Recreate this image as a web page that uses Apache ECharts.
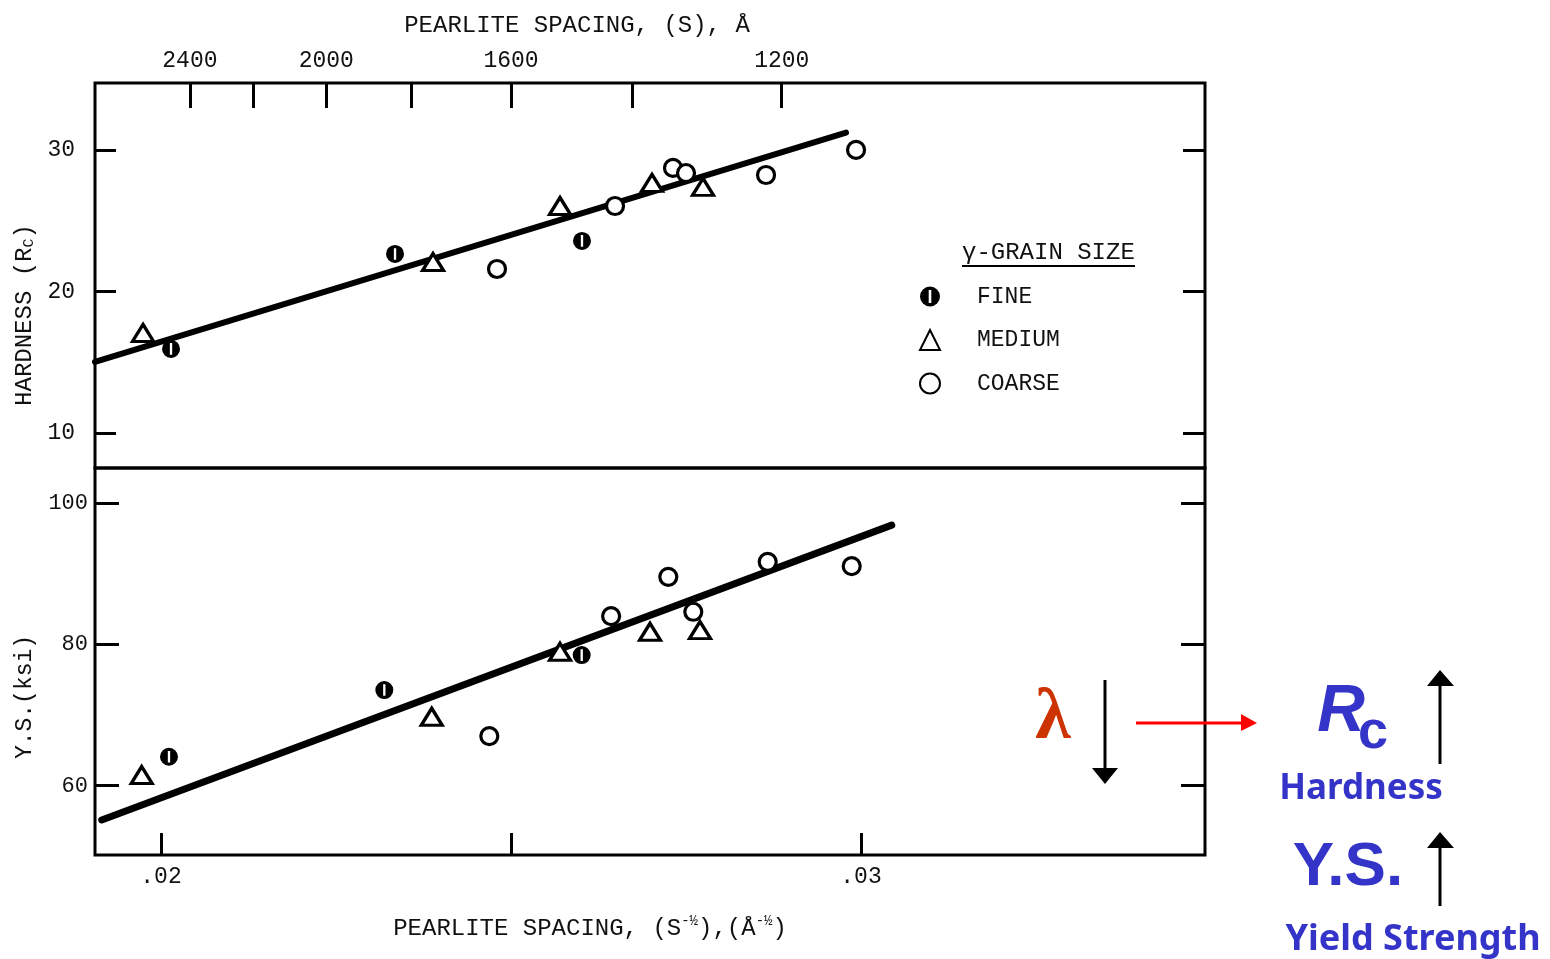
<!DOCTYPE html>
<html><head><meta charset="utf-8">
<script src="https://cdn.jsdelivr.net/npm/echarts@6/dist/echarts.min.js"></script>
<style>html,body{margin:0;padding:0;background:#fff}#chart{width:1550px;height:959px}</style>
</head><body><div id="chart"></div>
<script>
// ---- tick values ----
const spacingTickValues = [2400, 2200, 2000, 1800, 1600, 1400, 1200];   // top axis, Å
const spacingLabelValues = [2400, 2000, 1600, 1200];
const invRootTicks = [0.02, 0.025, 0.03];                               // bottom axis, S^-1/2
const invRootLabels = [0.02, 0.03];
const hardnessTicks = [10, 20, 30];
const ysTicks = [60, 80, 100];

// ---- hardness panel data [S^-1/2, Rc] ----
const hardnessFine = [[0.020143, 15.94], [0.023343, 22.65], [0.026014, 23.57]];
const hardnessMedium = [[0.019743, 17.07], [0.023886, 22.08], [0.0257, 26.04], [0.027014, 27.67], [0.027743, 27.39]];
const hardnessCoarse = [[0.0248, 21.59], [0.026486, 26.04], [0.027314, 28.73], [0.0275, 28.37], [0.028643, 28.23], [0.029929, 30.0]];
const hardnessFit = [[0.019057, 15.02], [0.029786, 31.22]];

// ---- yield strength panel data [S^-1/2, ksi] ----
const ysFine = [[0.020114, 64.10], [0.02319, 73.54], [0.02601, 78.49]];
const ysMedium = [[0.019724, 61.51], [0.023867, 69.76], [0.0257, 78.95], [0.026986, 81.78], [0.0277, 82.02]];
const ysCoarse = [[0.02469, 67.03], [0.02643, 84.0], [0.027247, 89.56], [0.027604, 84.61], [0.028667, 91.68], [0.029867, 91.07]];
const ysFit = [[0.019153, 55.15], [0.030439, 96.87]];

// ---- axis ranges ----
const X_MIN = 0.019057, X_MAX = 0.034914;
const H_MIN = 7.53, H_MAX = 34.73;
const Y_MIN = 50.2, Y_MAX = 104.95;

const mono = 'Liberation Mono';
const ink = '#111';
const blue = '#3434c8';
const FINE_SYMBOL = 'path://M0,-10A10,10,0,1,1,0,10A10,10,0,1,1,0,-10Z M-1.3,-6.5L-1.3,6.5L1.3,6.5L1.3,-6.5Z';

const styles = {
  FINE: { symbol: FINE_SYMBOL, symbolSize: 18, itemStyle: { color: '#000', borderWidth: 0, opacity: 1 } },
  MEDIUM: { symbol: 'triangle', symbolSize: [21, 17], itemStyle: { color: '#fff', borderColor: '#000', borderWidth: 3.2, opacity: 1 } },
  COARSE: { symbol: 'circle', symbolSize: 17, itemStyle: { color: '#fff', borderColor: '#000', borderWidth: 3.2, opacity: 1 } }
};

function scatter(name, data, xi, yi) {
  return Object.assign({ type: 'scatter', name: name, data: data, xAxisIndex: xi, yAxisIndex: yi, z: 5 }, styles[name]);
}
function fit(data, xi, yi, w) {
  return { type: 'line', data: data, xAxisIndex: xi, yAxisIndex: yi, symbol: 'none', z: 3,
    lineStyle: { color: '#000', width: w, cap: 'round' } };
}
const tickStyle = { color: '#000', width: 3 };

const chart = echarts.init(document.getElementById('chart'));
chart.setOption({
  animation: false,
  backgroundColor: '#fff',
  grid: [
    { left: 95, width: 1110, top: 83, height: 385, show: true, borderColor: '#000', borderWidth: 3, backgroundColor: 'transparent' },
    { left: 95, width: 1110, top: 468, height: 387, show: true, borderColor: '#000', borderWidth: 3, backgroundColor: 'transparent' }
  ],
  xAxis: [
    { gridIndex: 0, type: 'value', position: 'top', min: X_MIN, max: X_MAX,
      splitLine: { show: false }, axisLine: { show: false },
      axisTick: { inside: true, length: 25, lineStyle: tickStyle, customValues: spacingTickValues.map(s => 1 / Math.sqrt(s)) },
      axisLabel: { customValues: spacingLabelValues.map(s => 1 / Math.sqrt(s)), formatter: v => String(Math.round(1 / (v * v))),
        fontFamily: mono, fontSize: 23, color: ink, margin: 11 },
      name: 'PEARLITE SPACING, (S), Å', nameLocation: 'middle', nameGap: 45,
      nameTextStyle: { fontFamily: mono, fontSize: 24, color: ink, padding: [0, 146, 0, 0] } },
    { gridIndex: 1, type: 'value', position: 'bottom', min: X_MIN, max: X_MAX,
      splitLine: { show: false }, axisLine: { show: false },
      axisTick: { inside: true, length: 22, lineStyle: tickStyle, customValues: invRootTicks },
      axisLabel: { customValues: invRootLabels, formatter: v => '.' + String(Math.round(v * 100)).padStart(2, '0'),
        fontFamily: mono, fontSize: 23, color: ink, margin: 10 },
      name: 'PEARLITE SPACING, (S{sup|-½}),(Å{sup|-½})', nameLocation: 'middle', nameGap: 59,
      nameTextStyle: { fontFamily: mono, fontSize: 24, color: ink, padding: [0, 120, 0, 0],
        rich: { sup: { fontFamily: mono, fontSize: 14, color: ink, verticalAlign: 'top', lineHeight: 30 } } } }
  ],
  yAxis: [
    { gridIndex: 0, type: 'value', position: 'left', min: H_MIN, max: H_MAX,
      splitLine: { show: false }, axisLine: { show: false },
      axisTick: { inside: true, length: 21, lineStyle: tickStyle, customValues: hardnessTicks },
      axisLabel: { customValues: hardnessTicks, fontFamily: mono, fontSize: 23, color: ink, margin: 20, padding: [0, 0, 10, 0] } },
    { gridIndex: 0, type: 'value', position: 'right', min: H_MIN, max: H_MAX,
      splitLine: { show: false }, axisLine: { show: false }, axisLabel: { show: false },
      axisTick: { inside: true, length: 22, lineStyle: tickStyle, customValues: hardnessTicks } },
    { gridIndex: 1, type: 'value', position: 'left', min: Y_MIN, max: Y_MAX,
      splitLine: { show: false }, axisLine: { show: false },
      axisTick: { inside: true, length: 24, lineStyle: tickStyle, customValues: ysTicks },
      axisLabel: { customValues: ysTicks, fontFamily: mono, fontSize: 22, color: ink, margin: 7, padding: [0, 0, 10, 0] } },
    { gridIndex: 1, type: 'value', position: 'right', min: Y_MIN, max: Y_MAX,
      splitLine: { show: false }, axisLine: { show: false }, axisLabel: { show: false },
      axisTick: { inside: true, length: 24, lineStyle: tickStyle, customValues: ysTicks } }
  ],
  legend: {
    data: ['FINE', 'MEDIUM', 'COARSE'], orient: 'vertical', left: 919, top: 285, padding: 0,
    itemWidth: 20, itemHeight: 20, itemGap: 20.5, selectedMode: false,
    textStyle: { fontFamily: mono, fontSize: 23, color: ink, padding: [0, 0, 0, 32] }
  },
  series: [
    fit(hardnessFit, 0, 0, 6),
    scatter('FINE', hardnessFine, 0, 0),
    scatter('MEDIUM', hardnessMedium, 0, 0),
    scatter('COARSE', hardnessCoarse, 0, 0),
    fit(ysFit, 1, 2, 7),
    scatter('FINE', ysFine, 1, 2),
    scatter('MEDIUM', ysMedium, 1, 2),
    scatter('COARSE', ysCoarse, 1, 2)
  ],
  graphic: [
    { type: 'text', x: 25, y: 315, rotation: Math.PI / 2,
      style: { text: 'HARDNESS (R{sub|C})', fontFamily: mono, fontSize: 24, fill: ink, align: 'center', verticalAlign: 'middle',
        rich: { sub: { fontFamily: mono, fontSize: 15, fill: ink, verticalAlign: 'bottom', lineHeight: 14, padding: [10, 0, 0, 0] } } } },
    { type: 'text', x: 25, y: 697, rotation: Math.PI / 2,
      style: { text: 'Y.S.(ksi)', fontFamily: mono, fontSize: 23, fill: ink, align: 'center', verticalAlign: 'middle' } },
    { type: 'text', x: 962, y: 253,
      style: { text: 'γ-GRAIN SIZE', fontFamily: mono, fontSize: 24, fill: ink, align: 'left', verticalAlign: 'middle' } },
    { type: 'line', shape: { x1: 962, y1: 266, x2: 1135, y2: 266 }, style: { stroke: '#000', lineWidth: 2 } },
    // annotations
    { type: 'text', x: 1053, y: 719,
      style: { text: 'λ', fontFamily: 'Liberation Serif', fontWeight: 'bold', fontSize: 72, fill: '#cc3300', align: 'center', verticalAlign: 'middle' } },
    { type: 'line', shape: { x1: 1105, y1: 680, x2: 1105, y2: 770 }, style: { stroke: '#000', lineWidth: 3 } },
    { type: 'polygon', shape: { points: [[1092, 768], [1118, 768], [1105, 784]] }, style: { fill: '#000' } },
    { type: 'line', shape: { x1: 1136, y1: 723, x2: 1245, y2: 723 }, style: { stroke: '#ff0000', lineWidth: 3 } },
    { type: 'polygon', shape: { points: [[1241, 714], [1241, 731], [1257, 723]] }, style: { fill: '#ff0000' } },
    { type: 'text', x: 1341, y: 713,
      style: { text: 'R', fontFamily: 'Liberation Sans', fontStyle: 'italic', fontWeight: 'bold', fontSize: 66, fill: blue, align: 'center', verticalAlign: 'middle' } },
    { type: 'text', x: 1373, y: 733,
      style: { text: 'c', fontFamily: 'Liberation Sans', fontWeight: 'bold', fontSize: 54, fill: blue, align: 'center', verticalAlign: 'middle' } },
    { type: 'line', shape: { x1: 1440, y1: 764, x2: 1440, y2: 684 }, style: { stroke: '#000', lineWidth: 3 } },
    { type: 'polygon', shape: { points: [[1427, 686], [1454, 686], [1440, 670]] }, style: { fill: '#000' } },
    { type: 'text', x: 1361, y: 789,
      style: { text: 'Hardness', fontFamily: 'Noto Sans', fontWeight: 'bold', fontSize: 35, fill: blue, align: 'center', verticalAlign: 'middle' } },
    { type: 'text', x: 1348, y: 868,
      style: { text: 'Y.S.', fontFamily: 'Liberation Sans', fontWeight: 'bold', fontSize: 62, fill: blue, align: 'center', verticalAlign: 'middle' } },
    { type: 'line', shape: { x1: 1440, y1: 906, x2: 1440, y2: 846 }, style: { stroke: '#000', lineWidth: 3 } },
    { type: 'polygon', shape: { points: [[1427, 848], [1454, 848], [1440, 832]] }, style: { fill: '#000' } },
    { type: 'text', x: 1413, y: 940,
      style: { text: 'Yield Strength', fontFamily: 'Noto Sans', fontWeight: 'bold', fontSize: 36, fill: blue, align: 'center', verticalAlign: 'middle' } }
  ]
});
</script>
</body></html>
